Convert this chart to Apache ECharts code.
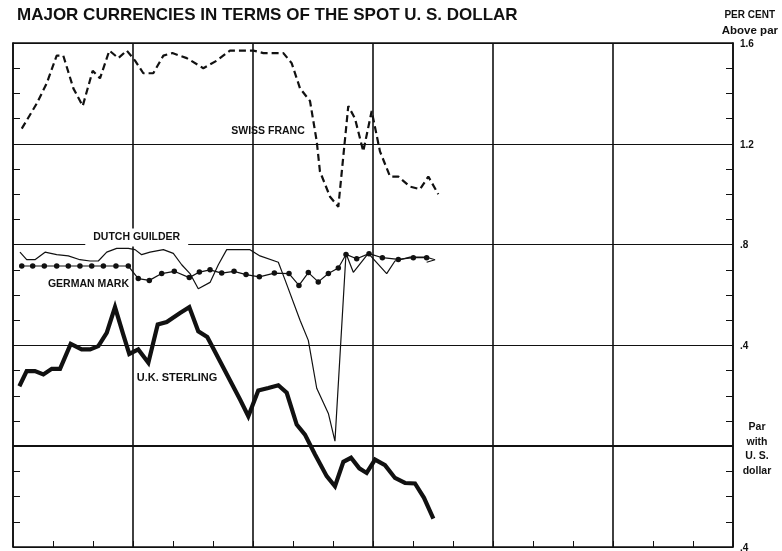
<!DOCTYPE html>
<html><head><meta charset="utf-8">
<script src="https://cdn.jsdelivr.net/npm/echarts@6/dist/echarts.min.js"></script>
<style>html,body{margin:0;padding:0;background:#fff}#c{width:782px;height:551px}</style>
</head><body><div id="c"></div>
<script>
// Right-axis tick labels (per cent above / below par)
const tickValues = [-0.4, 0, 0.4, 0.8, 1.2, 1.6];
const tickLabels = ['.4', 'Par\nwith\nU. S.\ndollar', '.4', '.8', '1.2', '1.6'];

// Swiss franc (dashed)
const swissX = [0.73,1.98,2.81,3.64,4.19,5.03,5.81,6.64,7.25,8.03,8.78,9.48,10.17,10.86,11.69,12.53,13.28,14.48,15.86,16.98,18.08,20.03,20.86,22.53,23.22,23.92,24.75,25.31,25.58,26.42,27.11,27.94,28.5,29.19,29.89,30.58,31.42,32.11,33.08,33.92,34.61,35.44];
const swissY = [1.26,1.36,1.44,1.55,1.55,1.42,1.35,1.49,1.46,1.57,1.54,1.57,1.53,1.48,1.48,1.55,1.56,1.54,1.50,1.53,1.57,1.57,1.56,1.56,1.52,1.42,1.37,1.21,1.09,0.99,0.95,1.35,1.30,1.17,1.33,1.17,1.07,1.07,1.03,1.02,1.07,1.00];

// Dutch guilder (thin solid)
const dutchX = [0.58,1.14,1.83,2.67,3.64,4.61,5.58,6.42,7.11,7.81,8.64,9.61,10.17,10.72,11.42,12.53,13.36,14.06,14.75,15.44,16.42,17.11,17.81,19.75,20.58,22.11,22.67,23.92,24.61,25.31,26.28,26.83,27.75,28.36,29.61,31.14,31.83,33.08,34.47,35.17,34.47];
const dutchY = [0.77,0.74,0.74,0.77,0.76,0.755,0.74,0.735,0.735,0.77,0.785,0.785,0.78,0.76,0.77,0.78,0.765,0.72,0.685,0.625,0.65,0.72,0.78,0.78,0.755,0.73,0.66,0.50,0.42,0.23,0.13,0.02,0.765,0.69,0.765,0.685,0.735,0.75,0.75,0.74,0.73];

// German mark (thin solid with dots)
const markX = [0.73,1.64,2.61,3.64,4.61,5.58,6.56,7.53,8.58,9.61,10.44,11.36,12.39,13.44,14.69,15.53,16.42,17.39,18.42,19.42,20.53,21.78,23.0,23.83,24.61,25.44,26.28,27.11,27.75,28.64,29.67,30.78,32.11,33.36,34.47];
const markY = [0.715,0.715,0.715,0.715,0.715,0.715,0.715,0.715,0.715,0.715,0.665,0.658,0.685,0.694,0.669,0.691,0.70,0.687,0.694,0.681,0.672,0.687,0.685,0.638,0.689,0.652,0.685,0.707,0.761,0.744,0.764,0.748,0.741,0.748,0.748];

// U.K. sterling (heavy solid)
const sterlingX = [0.53,1.14,1.83,2.53,3.23,3.92,4.81,5.72,6.42,7.11,7.81,8.5,9.19,9.69,10.44,11.28,12.06,12.81,13.92,14.69,15.44,16.19,18.92,19.61,20.44,21.28,22.11,22.81,23.64,24.33,25.17,26.14,26.83,27.53,28.17,28.86,29.47,30.17,31.0,31.83,32.67,33.5,34.25,35.03];
const sterlingY = [0.238,0.298,0.298,0.285,0.307,0.307,0.406,0.384,0.384,0.397,0.450,0.552,0.443,0.366,0.384,0.331,0.483,0.493,0.529,0.552,0.456,0.433,0.185,0.119,0.221,0.231,0.242,0.212,0.086,0.046,-0.033,-0.119,-0.159,-0.062,-0.046,-0.088,-0.106,-0.053,-0.075,-0.126,-0.146,-0.148,-0.205,-0.287];

const seriesNames = ['SWISS FRANC', 'DUTCH GUILDER', 'GERMAN MARK', 'U.K. STERLING'];

const INK = '#111';
const FONT = '"Liberation Sans", Arial, sans-serif';
const pairs = (xs, ys) => xs.map((x, i) => [x, ys[i]]);

function seriesLabel(coord, text, size, extra) {
  return {
    symbol: 'circle', symbolSize: 0, silent: true,
    itemStyle: { color: 'rgba(0,0,0,0)' },
    label: Object.assign({
      show: true, position: 'inside', formatter: text,
      color: INK, fontFamily: FONT, fontWeight: 'bold', fontSize: size
    }, extra || {}),
    data: [{ coord: coord }]
  };
}

const axisLineStyle = { show: true, onZero: false, lineStyle: { color: INK, width: 1.6 } };

const chart = echarts.init(document.getElementById('c'), null, { renderer: 'canvas' });
chart.setOption({
  animation: false,
  backgroundColor: '#fff',
  title: [
    { text: 'MAJOR CURRENCIES IN TERMS OF THE SPOT U. S. DOLLAR', left: 17, top: 7, padding: 0,
      textStyle: { fontFamily: FONT, fontWeight: 'bold', fontSize: 17, color: INK } },
    { text: 'PER CENT', right: 7, top: 10, padding: 0,
      textStyle: { fontFamily: FONT, fontWeight: 'bold', fontSize: 10, color: INK } },
    { text: 'Above par', right: 4, top: 25, padding: 0,
      textStyle: { fontFamily: FONT, fontWeight: 'bold', fontSize: 11.5, color: INK } }
  ],
  grid: { left: 13, right: 49, top: 43, bottom: 4, outerBoundsMode: 'none' },
  xAxis: [
    { type: 'value', min: 0, max: 60, interval: 10,
      axisLine: axisLineStyle,
      axisTick: { show: true, inside: true, length: 6, lineStyle: { color: INK, width: 1 } },
      minorTick: { show: true, splitNumber: 3, length: 6, lineStyle: { color: INK, width: 1 } },
      axisLabel: { show: false },
      splitLine: { show: true, lineStyle: { color: INK, width: 1.6 } } },
    { type: 'value', position: 'top', min: 0, max: 60, interval: 10,
      axisLine: axisLineStyle, axisTick: { show: false }, axisLabel: { show: false },
      splitLine: { show: false } }
  ],
  yAxis: [
    { type: 'value', position: 'right', min: -0.4, max: 1.6, interval: 0.4,
      axisLine: axisLineStyle,
      axisTick: { show: true, inside: true, length: 7, lineStyle: { color: INK, width: 1 } },
      minorTick: { show: true, splitNumber: 4, length: 7, lineStyle: { color: INK, width: 1 } },
      splitLine: { show: true, lineStyle: { color: INK, width: 1.1 } },
      axisLabel: {
        margin: 4, color: INK, fontFamily: FONT, fontWeight: 'bold', fontSize: 10,
        formatter: function (v) {
          const idx = tickValues.findIndex(t => Math.abs(t - v) < 1e-6);
          const s = idx >= 0 ? tickLabels[idx] : '';
          if (s.indexOf('\n') >= 0) return s.split('\n').map(l => '{p|' + l + '}').join('\n');
          return '{n|' + s + '}';
        },
        rich: {
          n: { padding: [2, 0, 0, 3], fontSize: 10, fontWeight: 'bold', fontFamily: FONT, color: INK },
          p: { width: 40, align: 'center', lineHeight: 14.5, fontSize: 10.5, padding: [6, 0, 0, 0],
               fontWeight: 'bold', fontFamily: FONT, color: INK }
        }
      } },
    { type: 'value', position: 'left', min: -0.4, max: 1.6, interval: 0.4,
      axisLine: axisLineStyle,
      axisTick: { show: true, inside: true, length: 7, lineStyle: { color: INK, width: 1 } },
      minorTick: { show: true, splitNumber: 4, length: 7, lineStyle: { color: INK, width: 1 } },
      splitLine: { show: false }, axisLabel: { show: false } }
  ],
  series: [
    { name: seriesNames[0], type: 'line', data: pairs(swissX, swissY), showSymbol: false,
      lineStyle: { color: INK, width: 2.2, type: [7, 4] }, z: 3,
      markPoint: seriesLabel([21.25, 1.251], seriesNames[0], 10.5) },
    { name: seriesNames[1], type: 'line', data: pairs(dutchX, dutchY), showSymbol: false,
      lineStyle: { color: INK, width: 1.2 }, z: 3,
      markPoint: seriesLabel([10.31, 0.828], seriesNames[1], 10.5,
        { backgroundColor: '#fff', padding: [2, 8, 5, 8] }) },
    { name: seriesNames[2], type: 'line', data: pairs(markX, markY),
      symbol: 'circle', symbolSize: 5.5, showAllSymbol: true,
      itemStyle: { color: INK }, lineStyle: { color: INK, width: 1.2 }, z: 4,
      markPoint: seriesLabel([6.29, 0.644], seriesNames[2], 10.5) },
    { name: seriesNames[3], type: 'line', data: pairs(sterlingX, sterlingY), showSymbol: false,
      lineStyle: { color: INK, width: 4.2, join: 'miter' }, z: 5,
      markPoint: seriesLabel([13.67, 0.271], seriesNames[3], 11),
      markLine: { silent: true, symbol: 'none', label: { show: false },
                  lineStyle: { color: INK, width: 2, type: 'solid' }, data: [{ yAxis: 0 }] } }
  ]
});
</script></body></html>
